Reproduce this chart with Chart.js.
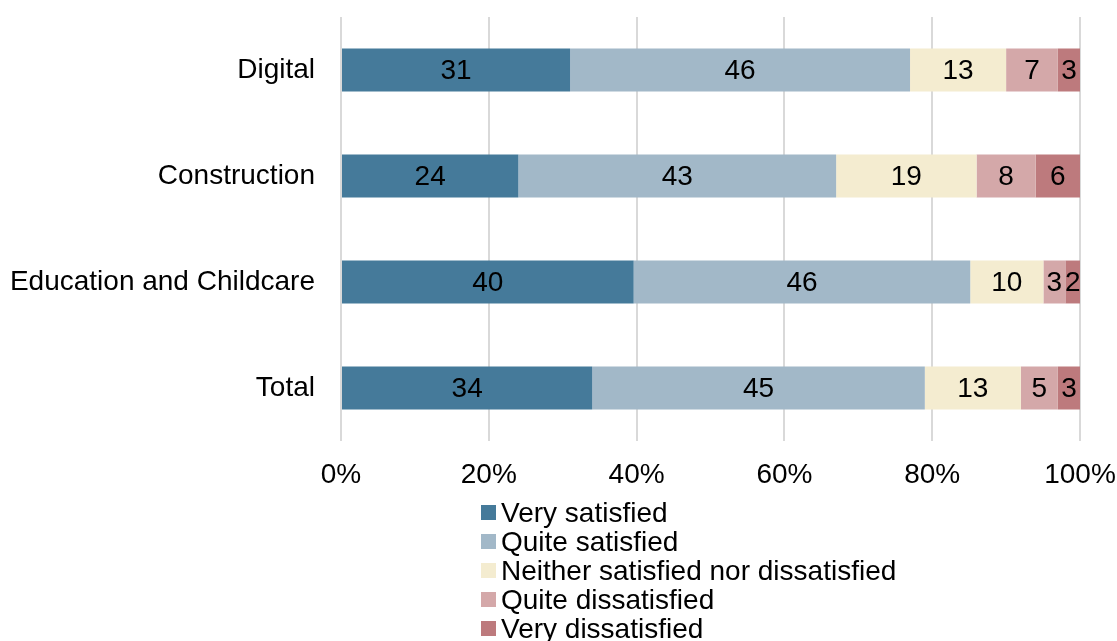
<!DOCTYPE html>
<html>
<head>
<meta charset="utf-8">
<script src="https://cdn.jsdelivr.net/npm/chart.js@4"></script>
<style>
  body { margin: 0; background: #fff; overflow: hidden; font-family: "Liberation Sans", Arial, sans-serif; }
  #wrap { position: relative; width: 1117px; height: 641px; }
  #legend { position: absolute; left: 481px; top: 498px; }
  .item { display: flex; align-items: center; height: 29px; font-size: 28px; color: #000; }
  .box { width: 15px; height: 15px; margin-right: 5px; }
</style>
</head>
<body>
<div id="wrap">
  <canvas id="myChart" width="1117" height="500"></canvas>
  <div id="legend"></div>
</div>
<script>
// Categories and satisfaction shares (%) per response
const categories = ["Digital", "Construction", "Education and Childcare", "Total"];
const verySatisfied = [31, 24, 40, 34];
const quiteSatisfied = [46, 43, 46, 45];
const neither = [13, 19, 10, 13];
const quiteDissatisfied = [7, 8, 3, 5];
const veryDissatisfied = [3, 6, 2, 3];
const xTicks = [0, 20, 40, 60, 80, 100];

const series = [
  { label: "Very satisfied", values: verySatisfied, color: "#457a9a" },
  { label: "Quite satisfied", values: quiteSatisfied, color: "#a2b8c8" },
  { label: "Neither satisfied nor dissatisfied", values: neither, color: "#f4ecd0" },
  { label: "Quite dissatisfied", values: quiteDissatisfied, color: "#d4a8a9" },
  { label: "Very dissatisfied", values: veryDissatisfied, color: "#bd7a7d" },
];

// each row is scaled to fill 100%
const totals = categories.map((c, i) => series.reduce((s, d) => s + d.values[i], 0));

const FONT = { family: "'Liberation Sans', Arial, sans-serif", size: 28 };

// write the stated value in the middle of each segment
const segmentLabels = {
  id: "segmentLabels",
  afterDatasetsDraw(chart) {
    const ctx = chart.ctx;
    ctx.save();
    ctx.font = FONT.size + "px " + FONT.family;
    ctx.fillStyle = "#000";
    ctx.textAlign = "center";
    ctx.textBaseline = "middle";
    chart.data.datasets.forEach((ds, di) => {
      chart.getDatasetMeta(di).data.forEach((bar, i) => {
        const x = (bar.x + bar.base) / 2;
        ctx.fillText(String(ds.raw[i]), x, bar.y + 1);
      });
    });
    ctx.restore();
  },
};

let ctx = document.getElementById("myChart").getContext("2d");

var myChart = new Chart(ctx, {
  type: "bar",
  data: {
    labels: categories,
    datasets: series.map((s) => ({
      label: s.label,
      raw: s.values,
      data: s.values.map((v, i) => (v / totals[i]) * 100),
      backgroundColor: s.color,
      borderWidth: 0,
      barPercentage: 1,
      categoryPercentage: 0.405,
    })),
  },
  options: {
    indexAxis: "y",
    responsive: false,
    animation: false,
    layout: { padding: { top: 17, right: 37, left: 0, bottom: 0 } },
    plugins: {
      legend: { display: false },
      tooltip: { enabled: false },
    },
    scales: {
      x: {
        stacked: true,
        min: 0,
        max: 100,
        afterBuildTicks: (scale) => { scale.ticks = xTicks.map((v) => ({ value: v })); },
        afterFit: (scale) => {
          scale.height = 59;
          scale.paddingLeft = 0;
          scale.paddingRight = 0;
        },
        grid: { color: "#d9d9d9", lineWidth: 2, drawTicks: false },
        border: { display: false },
        ticks: {
          color: "#000",
          font: FONT,
          padding: 17,
          callback: (v) => v + "%",
        },
      },
      y: {
        stacked: true,
        afterFit: (scale) => {
          scale.width = 341;
          scale.paddingTop = 0;
          scale.paddingBottom = 0;
        },
        grid: { display: false, drawTicks: false },
        border: { display: false },
        ticks: { color: "#000", font: FONT, padding: 26 },
      },
    },
  },
  plugins: [segmentLabels],
});

// vertical legend under the axis
const legend = document.getElementById("legend");
series.forEach((s) => {
  const row = document.createElement("div");
  row.className = "item";
  row.innerHTML = '<span class="box" style="background:' + s.color + '"></span>' + s.label;
  legend.appendChild(row);
});
</script>
</body>
</html>
